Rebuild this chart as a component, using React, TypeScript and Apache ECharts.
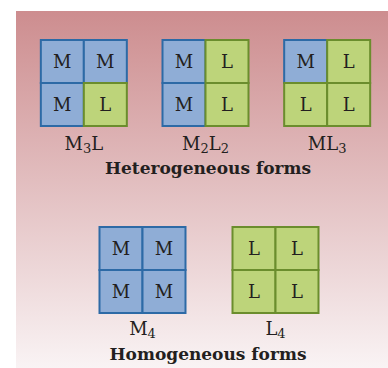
import React, { useEffect, useRef } from "react";
import * as echarts from "echarts";

const groupTitles = ["Heterogeneous forms", "Homogeneous forms"];
const heteroForms = ["M3L", "M2L2", "ML3"];
const heteroCells = [
  ["M", "M", "M", "L"],
  ["M", "L", "M", "L"],
  ["M", "L", "L", "L"],
];
const homoForms = ["M4", "L4"];
const homoCells = [
  ["M", "M", "M", "M"],
  ["L", "L", "L", "L"],
];

const FONT = "'DejaVu Serif', 'Liberation Serif', serif";
const TEXT = "#231f20";
const COLORS: Record<string, { fill: string; stroke: string }> = {
  M: { fill: "#8fadd6", stroke: "#2d6aa6" },
  L: { fill: "#bdd47a", stroke: "#6b8d2d" },
};

function buildCells(cells: string[][]) {
  const out: { value: number[]; letter: string }[] = [];
  cells.forEach((c, f) => {
    c.forEach((letter, i) => {
      out.push({ value: [f, Math.floor(i / 2), i % 2], letter });
    });
  });
  return out;
}

function labelFormatter(v: string) {
  return v.replace(/([A-Z]+)(\d?)/g, (_m, a, d) => `{m|${a}}` + (d ? `{s|${d}}` : ""));
}

function cellSeries(data: { value: number[]; letter: string }[], idx: number) {
  return {
    type: "custom",
    xAxisIndex: idx,
    yAxisIndex: idx,
    data: data.map((d) => d.value),
    renderItem: (params: any, api: any) => {
      const f = api.value(0);
      const row = api.value(1);
      const col = api.value(2);
      const letter = data[params.dataIndex].letter;
      const s = api.size([0, 1])[1];
      const cx = api.coord([f, 0])[0];
      const y = api.coord([f, row])[1];
      const x = cx - s + col * s;
      const c = COLORS[letter];
      return {
        type: "group",
        children: [
          {
            type: "rect",
            shape: { x, y, width: s, height: s },
            style: { fill: c.fill, stroke: c.stroke, lineWidth: 2 },
          },
          {
            type: "text",
            style: {
              text: letter,
              x: x + s / 2,
              y: y + s / 2,
              align: "center",
              verticalAlign: "middle",
              fill: TEXT,
              font: `18px ${FONT}`,
            },
          },
        ],
      };
    },
  };
}

const axisLabel = (margin: number) => ({
  interval: 0,
  margin,
  formatter: labelFormatter,
  rich: {
    m: { fontSize: 18, fontFamily: FONT, color: TEXT, lineHeight: 20, height: 20, verticalAlign: "bottom" },
    s: { fontSize: 13, fontFamily: FONT, color: TEXT, lineHeight: 10, height: 10, verticalAlign: "bottom" },
  },
});

export default function App() {
  const ref = useRef<HTMLDivElement>(null);
  useEffect(() => {
    if (!ref.current) return;
    const chart = echarts.init(ref.current, null, { renderer: "svg" });
    chart.setOption({
      animation: false,
      backgroundColor: "#ffffff",
      graphic: [
        {
          type: "rect",
          z: -10,
          silent: true,
          shape: { x: 16, y: 11, width: 372, height: 357 },
          style: {
            fill: new echarts.graphic.LinearGradient(0, 0, 0, 1, [
              { offset: 0, color: "#cd8d8f" },
              { offset: 1, color: "#f9f3f4" },
            ]),
          },
        },
      ],
      title: [
        {
          text: groupTitles[0],
          left: 208,
          top: 158,
          padding: 0,
          textAlign: "center",
          textStyle: { fontFamily: FONT, fontWeight: "bold", fontSize: 17, color: TEXT, lineHeight: 20 },
        },
        {
          text: groupTitles[1],
          left: 208,
          top: 344,
          padding: 0,
          textAlign: "center",
          textStyle: { fontFamily: FONT, fontWeight: "bold", fontSize: 17, color: TEXT, lineHeight: 20 },
        },
      ],
      grid: [
        { left: 23, top: 40, width: 369, height: 86 },
        { left: 76, top: 227, width: 266, height: 86 },
      ],
      xAxis: [
        {
          type: "category",
          gridIndex: 0,
          data: heteroForms,
          axisLine: { show: false },
          axisTick: { show: false },
          splitLine: { show: false },
          axisLabel: axisLabel(7),
        },
        {
          type: "category",
          gridIndex: 1,
          data: homoForms,
          axisLine: { show: false },
          axisTick: { show: false },
          splitLine: { show: false },
          axisLabel: axisLabel(5),
        },
      ],
      yAxis: [
        { type: "value", gridIndex: 0, min: 0, max: 2, inverse: true, show: false },
        { type: "value", gridIndex: 1, min: 0, max: 2, inverse: true, show: false },
      ],
      series: [cellSeries(buildCells(heteroCells), 0), cellSeries(buildCells(homoCells), 1)],
    });
    return () => chart.dispose();
  }, []);
  return <div ref={ref} style={{ position: "fixed", left: 0, top: 0, width: 388, height: 368 }} />;
}
